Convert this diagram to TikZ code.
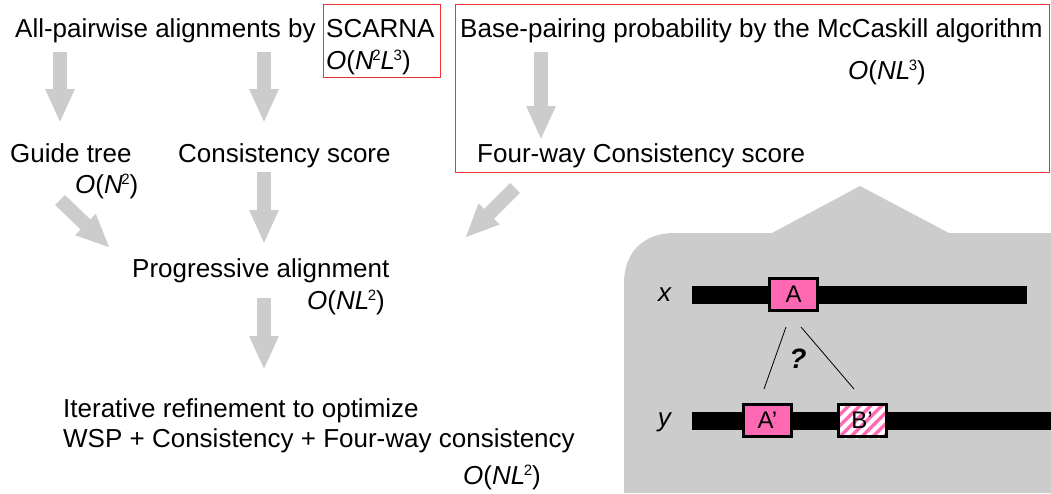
\documentclass[tikz,border=0pt]{standalone}
\usepackage{fontspec}
\setmainfont{Liberation Sans}
\usetikzlibrary{arrows.meta}
\definecolor{boxred}{RGB}{238,52,52}
\definecolor{arrowgray}{RGB}{204,204,204}
\definecolor{segpink}{RGB}{255,105,180}
\newcommand{\bigo}[1]{\textit{O}(#1)}
\newcommand{\pw}[1]{\kern-1.5pt\raisebox{8.5pt}{\fontsize{15}{15}\selectfont #1}}

\begin{document}
\begin{tikzpicture}[x=1pt,y=-1pt,inner sep=0pt,
  font=\fontsize{26}{30}\selectfont,
  garrow/.style={draw=arrowgray,line width=14pt,-{Triangle[length=34pt,width=27pt]}},
  redbox/.style={draw=boxred,line width=1pt},
  seg/.style={draw=black,fill=segpink,line width=3pt,minimum width=48pt,minimum height=32pt,font=\fontsize{24}{24}\selectfont},
  lab/.style={anchor=base west}]
\useasboundingbox (0,0) rectangle (1051,493);
% grey panel
\fill[arrowgray] (624,493) -- (624,283) .. controls (624,252) and (644,233) .. (674,233)
  -- (772,233) -- (860,186) -- (949,233) -- (1051,233) -- (1051,493) -- cycle;
% red frames
\draw[redbox] (323,4) rectangle (440,77);
\draw[redbox] (455,4) rectangle (1049,172);
% texts
\node[lab] (allpw) at (15,37) {All-pairwise alignments by};
\node[lab] (scarna) at (326,37) {SCARNA};
\node[lab] (scarnaO) at (326,69) {\bigo{\textit{N}\pw{2}\textit{L}\pw{3}}};
\node[lab] (mccask) at (460,37) {Base-pairing probability by the McCaskill algorithm};
\node[lab] (mccaskO) at (848,79) {\bigo{\textit{NL}\pw{3}}};
\node[lab] (guide) at (10,162) {Guide tree};
\node[lab] (guideO) at (75,193) {\bigo{\textit{N}\pw{2}}};
\node[lab] (consist) at (178,162) {Consistency score};
\node[lab] (fourway) at (477,162) {Four-way Consistency score};
\node[lab] (progr) at (132,277) {Progressive alignment};
\node[lab] (progrO) at (307,309) {\bigo{\textit{NL}\pw{2}}};
\node[lab] (iter) at (63,417) {Iterative refinement to optimize};
\node[lab] (wsp) at (63,447) {WSP + Consistency + Four-way consistency};
\node[lab] (iterO) at (463,484) {\bigo{\textit{NL}\pw{2}}};
% grey arrows
\coordinate (a1s) at (60,52);   \coordinate (a1e) at (60,123);
\coordinate (a2s) at (264,52);  \coordinate (a2e) at (264,123);
\coordinate (a3s) at (541,52);  \coordinate (a3e) at (541,140);
\coordinate (a4s) at (60,200);  \coordinate (a4e) at (110,248);
\coordinate (a5s) at (264,172); \coordinate (a5e) at (264,244);
\coordinate (a6s) at (515,188); \coordinate (a6e) at (465,238);
\coordinate (a7s) at (264,298); \coordinate (a7e) at (264,370);
\foreach \n in {1,...,7}
  \draw[garrow] (a\n s) -- (a\n e);
% sequences x and y
\fill[black] (692,286) rectangle (1027,304);
\fill[black] (692,412) rectangle (1051,430);
\node[anchor=base] (xlab) at (665,301) {\textit{x}};
\node[anchor=base] (ylab) at (665,426) {\textit{y}};
\node[seg] (segA) at (793.5,294.5) {A};
\node[seg] (segAp) at (767.5,420.5) {A'};
% hatched B'
\fill[segpink] (837,403) rectangle (887,438);
\begin{scope}
\clip (837,403) rectangle (887,438);
\foreach \i in {0,...,8}
  \draw[white,line width=4pt] (800+\i*11,438) -- ++(40,-40);
\end{scope}
\node[seg,fill=none] (segBp) at (862,420.5) {B'};
% candidate matches
\coordinate (qa1) at (786,327); \coordinate (qa2) at (764,389);
\coordinate (qb1) at (801,327); \coordinate (qb2) at (854,389);
\draw[line width=0.8pt] (qa1) -- (qa2);
\draw[line width=0.8pt] (qb1) -- (qb2);
\node[font=\fontsize{28}{28}\selectfont\bfseries\itshape] (qmark) at (798,359) {?};
\end{tikzpicture}
\end{document}
